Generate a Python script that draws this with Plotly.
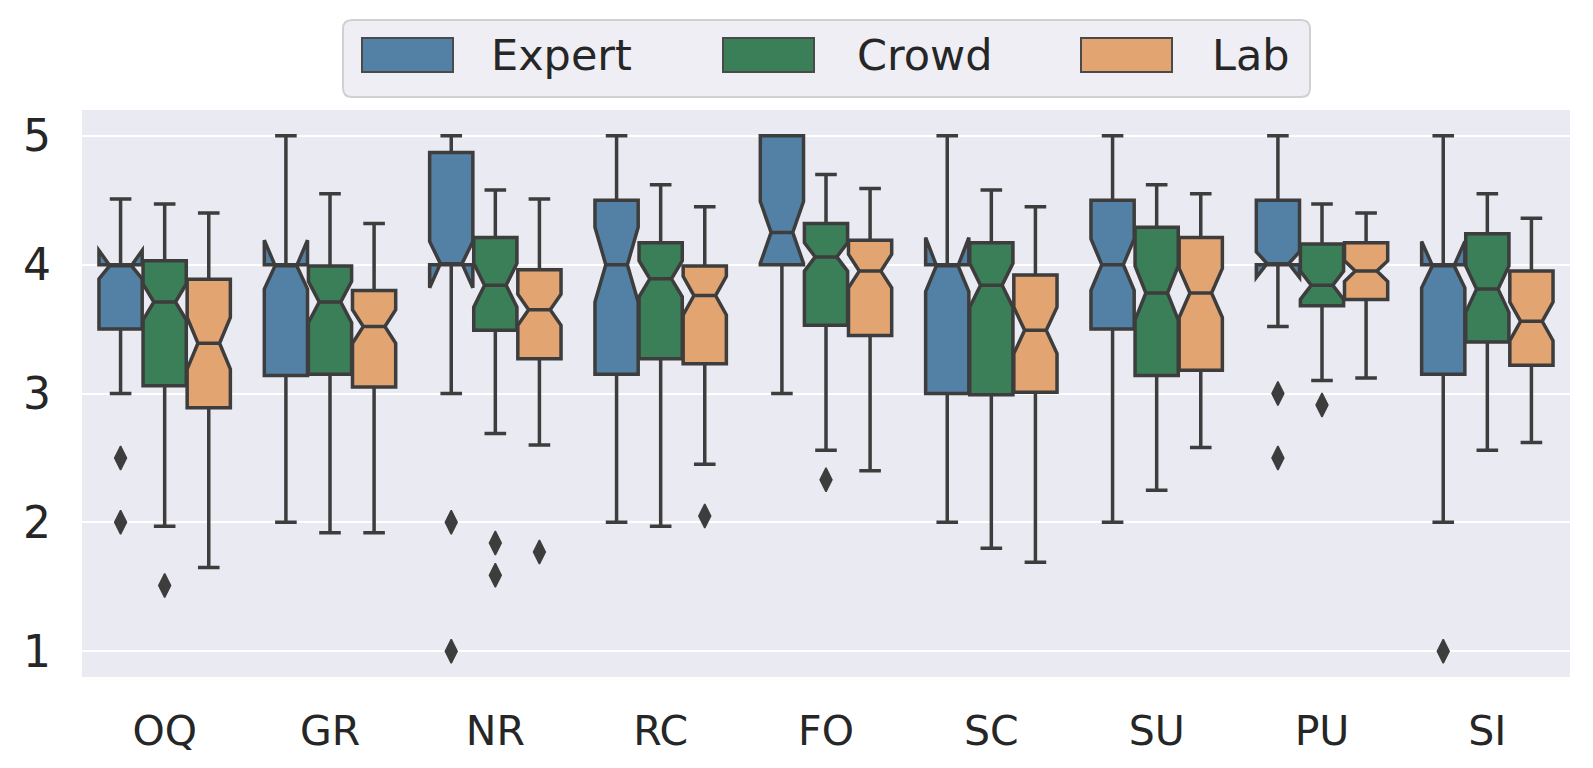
import plotly.graph_objects as go

categories = ["OQ", "GR", "NR", "RC", "FO", "SC", "SU", "PU", "SI"]
groups = ["Expert", "Crowd", "Lab"]

# Expert
exp_low = [3.0, 2.0, 3.0, 2.0, 3.0, 2.0, 2.0, 3.52, 2.0]
exp_q1 = [3.5, 3.14, 4.0, 3.15, 4.0, 3.0, 3.5, 4.0, 3.15]
exp_med = [4.0, 4.0, 4.0, 4.0, 4.25, 4.0, 4.0, 4.0, 4.0]
exp_q3 = [4.0, 4.0, 4.87, 4.5, 5.0, 4.0, 4.5, 4.5, 4.0]
exp_high = [4.51, 5.0, 5.0, 5.0, 5.0, 5.0, 5.0, 5.0, 5.0]
exp_notch = [0.11, 0.19, 0.18, 0.29, 0.24, 0.21, 0.2, 0.1, 0.18]
exp_out_cat = ["OQ", "OQ", "NR", "NR", "PU", "PU", "SI"]
exp_out_val = [2.5, 2.0, 2.0, 1.0, 3.0, 2.5, 1.0]

# Crowd
crd_low = [1.97, 1.92, 2.69, 1.97, 2.56, 1.8, 2.25, 3.1, 2.56]
crd_q1 = [3.06, 3.15, 3.49, 3.27, 3.53, 2.99, 3.14, 3.68, 3.4]
crd_med = [3.71, 3.71, 3.84, 3.89, 4.06, 3.84, 3.78, 3.84, 3.81]
crd_q3 = [4.03, 3.99, 4.21, 4.17, 4.32, 4.17, 4.29, 4.16, 4.24]
crd_high = [4.47, 4.55, 4.58, 4.62, 4.7, 4.58, 4.62, 4.47, 4.55]
crd_notch = [0.14, 0.16, 0.17, 0.14, 0.11, 0.17, 0.21, 0.11, 0.18]
crd_out_cat = ["OQ", "NR", "NR", "FO", "PU"]
crd_out_val = [1.51, 1.84, 1.59, 2.33, 2.91]

# Lab
lab_low = [1.65, 1.92, 2.6, 2.45, 2.4, 1.69, 2.58, 3.12, 2.62]
lab_q1 = [2.89, 3.05, 3.27, 3.23, 3.45, 3.01, 3.18, 3.73, 3.22]
lab_med = [3.39, 3.52, 3.65, 3.76, 3.95, 3.49, 3.78, 3.95, 3.56]
lab_q3 = [3.886, 3.8, 3.96, 3.99, 4.19, 3.92, 4.21, 4.17, 3.95]
lab_high = [4.4, 4.32, 4.51, 4.45, 4.59, 4.45, 4.55, 4.4, 4.36]
lab_notch = [0.2, 0.13, 0.12, 0.15, 0.13, 0.18, 0.19, 0.08, 0.15]
lab_out_cat = ["NR", "RC"]
lab_out_val = [1.77, 2.05]

colors = ["#5381a6", "#3a7f58", "#e2a572"]
line_col = "#3d3d3d"
text_col = "#262626"
font_fam = "DejaVu Sans"

stats = [
    (exp_low, exp_q1, exp_med, exp_q3, exp_high, exp_notch, exp_out_cat, exp_out_val),
    (crd_low, crd_q1, crd_med, crd_q3, crd_high, crd_notch, crd_out_cat, crd_out_val),
    (lab_low, lab_q1, lab_med, lab_q3, lab_high, lab_notch, lab_out_cat, lab_out_val),
]

group_width = 0.8
n = len(groups)
slot = group_width / n
box_w = slot * 0.98

fig = go.Figure()
for gi, (g, col, st) in enumerate(zip(groups, colors, stats)):
    low, q1, med, q3, high, notch, ocat, oval = st
    off = -group_width / 2 + slot * (gi + 0.5)
    xs = [i + off for i in range(len(categories))]
    fig.add_trace(go.Box(
        x=xs, q1=q1, median=med, q3=q3, lowerfence=low, upperfence=high,
        notched=True, notchspan=notch, notchwidth=0.25,
        width=box_w, whiskerwidth=0.5,
        fillcolor=col, line=dict(color=line_col, width=3.5),
        name=g, showlegend=False, boxpoints=False, hoverinfo="skip",
    ))
    ox = [categories.index(c) + off for c in ocat]
    fig.add_trace(go.Scatter(
        x=ox, y=oval, mode="markers", showlegend=False, hoverinfo="skip",
        marker=dict(symbol="diamond-tall", size=17, color=line_col,
                    line=dict(width=1.5, color=line_col)),
    ))

# page offset (body margin) and plot area in page pixels
OFF = 8
W, H = 1593 - OFF, 768 - OFF
X0, X1, Y0, Y1 = 82, 1570, 110, 677
def px(x):
    return (x - X0) / (X1 - X0)
def py(y):
    return (Y1 - y) / (Y1 - Y0)

shapes = []
# legend frame (rounded)
lx0, lx1, ly0, ly1, r = 343, 1310, 20, 97, 9
frame_path = (
    f"M {px(lx0 + r)},{py(ly0)} L {px(lx1 - r)},{py(ly0)} "
    f"Q {px(lx1)},{py(ly0)} {px(lx1)},{py(ly0 + r)} "
    f"L {px(lx1)},{py(ly1 - r)} Q {px(lx1)},{py(ly1)} {px(lx1 - r)},{py(ly1)} "
    f"L {px(lx0 + r)},{py(ly1)} Q {px(lx0)},{py(ly1)} {px(lx0)},{py(ly1 - r)} "
    f"L {px(lx0)},{py(ly0 + r)} Q {px(lx0)},{py(ly0)} {px(lx0 + r)},{py(ly0)} Z"
)
shapes.append(dict(type="path", xref="paper", yref="paper", path=frame_path,
                   fillcolor="#eeeef4", line=dict(color="#d0d0d0", width=2),
                   layer="above"))
patch_x = [362, 723, 1081]
text_x = [489, 855, 1210]
annotations = []
for g, col, pxl, tx in zip(groups, colors, patch_x, text_x):
    shapes.append(dict(type="rect", xref="paper", yref="paper",
                       x0=px(pxl), x1=px(pxl + 91), y0=py(72), y1=py(38),
                       fillcolor=col, line=dict(color="#4a4a4a", width=2),
                       layer="above"))
    annotations.append(dict(xref="paper", yref="paper", x=px(tx), y=py(55),
                            xanchor="left", yanchor="middle", text=g,
                            showarrow=False,
                            font=dict(family=font_fam, size=43, color=text_col)))

fig.update_layout(
    width=W, height=H,
    margin=dict(l=X0 - OFF, r=1593 - X1, t=Y0 - OFF, b=768 - Y1),
    paper_bgcolor="white", plot_bgcolor="#eaeaf2",
    boxmode="overlay",
    shapes=shapes, annotations=annotations,
    showlegend=False,
    font=dict(family=font_fam, color=text_col),
)
fig.update_xaxes(
    range=[-0.5, len(categories) - 0.5],
    tickmode="array", tickvals=list(range(len(categories))), ticktext=categories,
    showgrid=False, zeroline=False, showline=False, ticks="",
    tickfont=dict(size=41, color=text_col), ticklabelstandoff=26,
)
fig.update_yaxes(
    range=[0.8, 5.2], tickmode="array", tickvals=[1, 2, 3, 4, 5],
    showgrid=True, gridcolor="white", gridwidth=2, zeroline=False,
    showline=False, ticks="",
    tickfont=dict(size=44, color=text_col), ticklabelstandoff=30,
)

fig.write_html("out.html")
